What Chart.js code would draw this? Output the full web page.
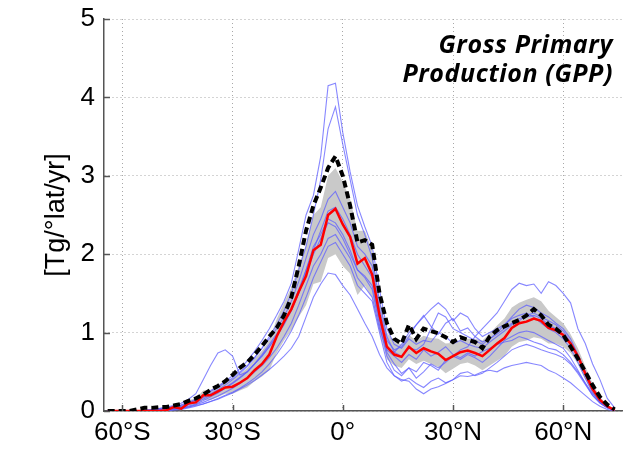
<!DOCTYPE html>
<html><head><meta charset="utf-8">
<script src="https://cdn.jsdelivr.net/npm/chart.js@4/dist/chart.umd.min.js"></script>
<style>html,body{margin:0;padding:0;background:#fff;}#wrap{width:625px;height:455px;}</style>
</head><body><div id="wrap"><canvas id="c" width="625" height="455"></canvas></div>
<script>
// Latitude (degrees, negative = south)
const lats = [-64,-62,-60,-58,-56,-54,-52,-50,-48,-46,
  -44,-42,-40,-38,-36,-34,-32,-30,-28,-26,
  -24,-22,-20,-18,-16,-14,-12,-10,-8,-6,
  -4,-2,0,2,4,6,8,10,12,14,
  16,18,20,22,24,26,28,30,32,34,
  36,38,40,42,44,46,48,50,52,54,
  56,58,60,62,64,66,68,70,72,74];

const xTicks = [-60,-30,0,30,60];
const xTickLabels = ['60°S','30°S','0°','30°N','60°N'];
const yTicks = [0,1,2,3,4,5];

// Observation-based estimate (black dashed)
const obsGPP = [0,0,0,0,0.02,0.04,0.04,0.05,0.05,0.07,
  0.09,0.13,0.16,0.21,0.27,0.32,0.38,0.46,0.55,0.62,
  0.72,0.83,0.95,1.06,1.22,1.45,1.85,2.3,2.62,2.85,
  3.1,3.25,3.0,2.62,2.15,2.18,2.12,1.5,1.12,0.92,
  0.86,1.1,0.92,1.05,1.02,0.99,0.94,0.88,0.94,0.91,
  0.88,0.8,0.95,1.03,1.08,1.12,1.16,1.22,1.3,1.22,
  1.1,1.05,0.97,0.82,0.67,0.5,0.33,0.18,0.08,0.02];

// Multi-model mean (red)
const meanGPP = [0,0,0,0,0,0,0,0,0.01,0.05,
  0.03,0.1,0.11,0.2,0.2,0.25,0.3,0.31,0.36,0.42,
  0.52,0.6,0.72,0.95,1.14,1.3,1.52,1.72,2.05,2.12,
  2.5,2.58,2.38,2.22,1.88,1.95,1.74,1.22,0.82,0.72,
  0.69,0.82,0.74,0.8,0.76,0.73,0.65,0.7,0.75,0.77,
  0.74,0.7,0.78,0.86,0.93,1.06,1.12,1.14,1.18,1.15,
  1.06,1.03,0.97,0.86,0.7,0.48,0.28,0.14,0.06,0.01];

// Spread band (grey)
const bandHigh = [0,0,0,0,0.01,0.02,0.02,0.03,0.04,0.08,
  0.07,0.14,0.16,0.26,0.27,0.33,0.39,0.41,0.47,0.55,
  0.67,0.77,0.9,1.17,1.38,1.58,1.85,2.12,2.5,2.6,
  3.0,3.1,2.92,2.7,2.3,2.3,2.05,1.45,1.0,0.88,
  0.85,0.97,0.9,0.96,0.93,0.92,0.86,0.87,0.9,0.92,
  0.92,0.9,0.99,1.09,1.18,1.32,1.38,1.42,1.45,1.4,
  1.28,1.2,1.12,0.98,0.8,0.57,0.35,0.18,0.08,0.02];
const bandLow = [0,0,0,0,0,0,0,0,0,0.02,
  0.01,0.06,0.07,0.14,0.14,0.18,0.22,0.22,0.26,0.3,
  0.38,0.44,0.52,0.74,0.9,1.03,1.2,1.35,1.62,1.65,
  1.95,2.0,1.85,1.75,1.48,1.6,1.45,1.0,0.66,0.58,
  0.55,0.66,0.6,0.64,0.6,0.56,0.48,0.54,0.6,0.62,
  0.58,0.52,0.58,0.64,0.7,0.82,0.88,0.9,0.94,0.92,
  0.86,0.86,0.82,0.74,0.6,0.4,0.22,0.1,0.04,0.0];

// Individual models (blue)
const model1 = [0,0,0,0,0,0.01,0.02,0.03,0.04,0.06,
  0.08,0.11,0.15,0.2,0.26,0.31,0.38,0.45,0.54,0.64,
  0.76,0.9,1.05,1.22,1.4,1.63,2.06,2.5,2.75,3.25,
  4.15,4.18,3.55,3.05,2.62,2.35,2.1,1.55,1.05,0.85,
  0.8,0.92,0.85,0.9,0.88,1.0,0.95,0.86,0.9,0.85,
  0.82,0.8,0.88,0.95,1.02,1.1,1.15,1.22,1.25,1.2,
  1.15,1.1,1.02,0.88,0.7,0.5,0.3,0.15,0.06,0.01];
const model2 = [0,0,0,0,0,0,0.01,0.02,0.03,0.04,
  0.06,0.09,0.12,0.17,0.22,0.27,0.33,0.4,0.48,0.57,
  0.68,0.8,0.95,1.1,1.28,1.5,1.8,2.1,2.5,2.95,
  3.6,3.88,3.4,2.95,2.5,2.25,1.95,1.4,0.95,0.75,
  0.7,0.8,0.78,0.85,1.05,1.25,1.2,1.05,1.0,0.95,
  0.9,0.85,0.92,1.0,1.1,1.2,1.3,1.35,1.32,1.25,
  1.2,1.12,1.05,0.92,0.72,0.5,0.3,0.14,0.05,0.01];
const model3 = [0,0,0,0,0,0,0,0,0.01,0.02,
  0.03,0.05,0.07,0.09,0.12,0.15,0.19,0.23,0.28,0.33,
  0.39,0.46,0.53,0.61,0.7,0.8,0.95,1.2,1.45,1.62,
  1.76,1.74,1.6,1.48,1.3,1.12,0.95,0.72,0.55,0.45,
  0.4,0.38,0.28,0.22,0.28,0.31,0.35,0.4,0.45,0.44,
  0.46,0.5,0.52,0.5,0.55,0.58,0.6,0.62,0.6,0.58,
  0.52,0.48,0.42,0.36,0.28,0.2,0.12,0.06,0.02,0];
const model4 = [0,0,0,0,0,0.01,0.02,0.03,0.05,0.07,
  0.1,0.15,0.22,0.4,0.58,0.74,0.78,0.7,0.46,0.5,
  0.6,0.72,0.85,0.98,1.12,1.3,1.5,1.75,2.0,2.2,
  2.4,2.35,2.2,2.0,1.8,1.7,1.55,1.1,0.7,0.52,
  0.45,0.55,0.42,0.5,0.6,0.55,0.62,0.7,0.66,0.72,
  0.68,0.62,0.7,0.8,0.9,0.95,1.0,1.02,1.0,0.95,
  0.9,0.85,0.8,0.68,0.52,0.35,0.2,0.1,0.04,0.01];
const model5 = [0,0,0,0,0,0,0,0.01,0.02,0.03,
  0.05,0.08,0.11,0.15,0.2,0.25,0.3,0.36,0.43,0.5,
  0.6,0.7,0.82,0.95,1.1,1.28,1.5,1.8,2.05,2.3,
  2.55,2.6,2.45,2.25,2.0,1.85,1.7,1.2,0.75,0.6,
  0.48,0.55,0.5,0.62,0.58,0.52,0.65,0.7,0.78,0.82,
  0.95,1.05,1.15,1.25,1.4,1.55,1.63,1.6,1.62,1.5,
  1.65,1.6,1.5,1.38,1.05,0.86,0.6,0.4,0.16,0.04];
const model6 = [0,0,0,0,0,0,0,0.01,0.02,0.03,
  0.04,0.06,0.09,0.13,0.18,0.23,0.29,0.35,0.42,0.5,
  0.6,0.7,0.82,0.96,1.12,1.3,1.55,1.8,2.1,2.25,
  2.45,2.4,2.25,2.05,1.8,1.72,1.6,1.15,0.8,0.75,
  0.85,1.0,1.1,1.2,1.3,1.38,1.3,1.15,1.25,1.2,
  1.05,0.95,1.0,1.05,1.1,1.18,1.22,1.25,1.2,1.12,
  1.05,1.0,0.92,0.8,0.62,0.42,0.24,0.11,0.04,0.01];
const model7 = [0,0,0,0,0,0,0,0,0,0.01,
  0.02,0.04,0.06,0.09,0.12,0.16,0.2,0.24,0.29,0.35,
  0.42,0.5,0.6,0.72,0.86,1.02,1.22,1.45,1.7,1.9,
  2.1,2.15,2.0,1.85,1.6,1.5,1.4,1.0,0.62,0.45,
  0.38,0.42,0.35,0.3,0.38,0.42,0.36,0.4,0.48,0.5,
  0.45,0.48,0.55,0.62,0.7,0.78,0.82,0.85,0.82,0.78,
  0.75,0.72,0.68,0.6,0.48,0.34,0.2,0.1,0.04,0.01];
const model8 = [0,0,0,0,0,0,0.01,0.02,0.03,0.05,
  0.07,0.1,0.14,0.19,0.25,0.3,0.36,0.42,0.5,0.58,
  0.68,0.8,0.92,1.05,1.2,1.4,1.65,1.95,2.25,2.45,
  2.7,2.8,2.6,2.4,2.1,2.0,1.85,1.3,0.9,0.78,
  0.82,0.95,1.1,1.22,1.08,0.98,1.12,1.18,1.02,1.06,
  0.95,0.88,0.92,0.98,1.05,1.12,1.18,1.2,1.22,1.18,
  1.1,1.05,0.98,0.85,0.68,0.48,0.28,0.13,0.05,0.01];
const model9 = [0,0,0,0,0,0,0,0,0.01,0.02,
  0.03,0.05,0.08,0.11,0.15,0.19,0.24,0.29,0.35,0.42,
  0.5,0.58,0.68,0.8,0.95,1.12,1.35,1.6,1.85,2.0,
  2.2,2.25,2.1,1.95,1.7,1.58,1.45,1.05,0.78,0.7,
  0.62,0.72,0.66,0.78,0.7,0.75,0.82,0.72,0.68,0.74,
  0.7,0.76,0.8,0.85,0.88,0.9,0.95,0.92,0.88,0.85,
  0.8,0.78,0.72,0.62,0.5,0.36,0.22,0.11,0.04,0.01];
const models = [model1,model2,model3,model4,model5,model6,model7,model8,model9];

const FONT = "'Liberation Sans', Arial, Helvetica, sans-serif";
const toPts = arr => arr.map((v,i)=>({x:lats[i], y:v}));

const datasets = [];
datasets.push({label:'obs', data:toPts(obsGPP), borderColor:'#000', borderWidth:4, borderDash:[7,4], pointRadius:0, fill:false, order:0});
datasets.push({label:'mean', data:toPts(meanGPP), borderColor:'#ff0000', borderWidth:2.5, pointRadius:0, fill:false, order:1});
models.forEach((m,k)=>datasets.push({label:'m'+k, data:toPts(m), borderColor:'rgba(95,95,255,0.75)', borderWidth:1.1, pointRadius:0, fill:false, order:2}));
const lowIdx = datasets.length;
datasets.push({label:'bandLow', data:toPts(bandLow), borderWidth:0, borderColor:'rgba(0,0,0,0)', pointRadius:0, fill:false, order:5});
datasets.push({label:'bandHigh', data:toPts(bandHigh), borderWidth:0, borderColor:'rgba(0,0,0,0)', pointRadius:0, fill:{target:lowIdx}, backgroundColor:'#c9c9c9', order:4});

const innerTicks = {
  id:'innerTicks',
  afterDraw(chart){
    const {ctx, chartArea:a, scales:{x,y}} = chart;
    ctx.save();
    ctx.strokeStyle = '#555'; ctx.lineWidth = 1.5;
    yTicks.forEach(v=>{ const py = Math.round(y.getPixelForValue(v))+0.5; ctx.beginPath(); ctx.moveTo(a.left, py); ctx.lineTo(a.left+6, py); ctx.stroke(); });
    xTicks.forEach(v=>{ const px = Math.round(x.getPixelForValue(v))+0.5; ctx.beginPath(); ctx.moveTo(px, a.bottom); ctx.lineTo(px, a.bottom-6); ctx.stroke(); });
    // title
    ctx.fillStyle = '#000';
    ctx.font = "italic bold 25px 'Open Sans', Lato, sans-serif";
    try { ctx.letterSpacing = '0.6px'; } catch(e) {}
    ctx.textAlign = 'right'; ctx.textBaseline = 'alphabetic';
    ctx.fillText('Gross Primary', 613, 53);
    ctx.fillText('Production (GPP)', 613, 82);
    ctx.restore();
  }
};

new Chart(document.getElementById('c'), {
  type:'line',
  data:{datasets},
  options:{
    responsive:false, animation:false, devicePixelRatio:1,
    layout:{padding:{top:19, right:3, left:0, bottom:0}},
    plugins:{legend:{display:false}, tooltip:{enabled:false}, title:{display:false}},
    elements:{line:{tension:0}},
    scales:{
      x:{type:'linear', min:-65, max:76,
        afterBuildTicks: s => { s.ticks = xTicks.map(v=>({value:v})); },
        afterFit: s => { s.height = 44; s.paddingLeft = 0; s.paddingRight = 0; },
        ticks:{font:{family:FONT, size:26}, color:'#000', padding:6, maxRotation:0,
          callback:(v)=>{ const i = xTicks.indexOf(v); return i>=0 ? xTickLabels[i] : ''; }},
        grid:{color:'#a8a8a8', lineWidth:1, drawTicks:false},
        border:{color:'#555', width:1.5, dash:[1,3]}
      },
      y:{type:'linear', min:0, max:5,
        afterBuildTicks: s => { s.ticks = yTicks.map(v=>({value:v})); },
        afterFit: s => { s.width = 104; s.paddingTop = 0; s.paddingBottom = 0; },
        ticks:{font:{family:FONT, size:26}, color:'#000', padding:9},
        grid:{color:'#a8a8a8', lineWidth:1, drawTicks:false},
        border:{color:'#555', width:1.5, dash:[1,3]},
        title:{display:true, text:'[Tg/°lat/yr]', font:{family:FONT, size:27}, color:'#000', padding:{top:40, bottom:0}}
      }
    }
  },
  plugins:[innerTicks]
});
</script>
</body></html>
